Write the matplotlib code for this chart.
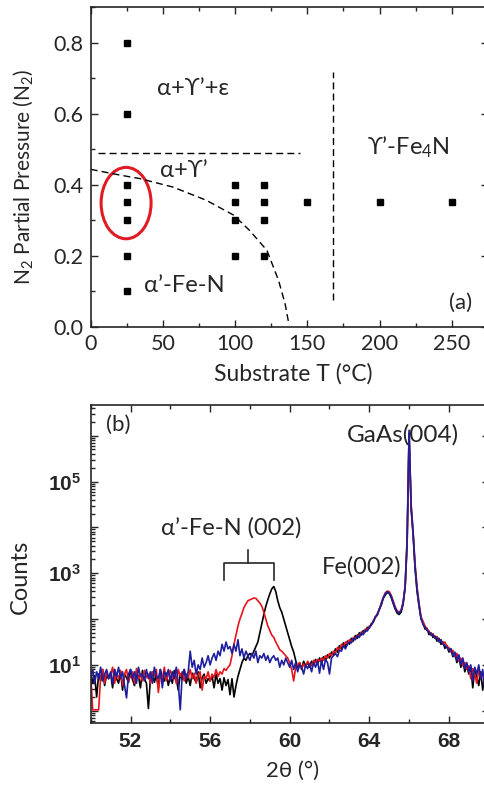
import matplotlib
matplotlib.use("Agg")
import matplotlib.pyplot as plt
import numpy as np
from matplotlib.patches import Ellipse
from matplotlib.ticker import MultipleLocator, LogLocator, FixedLocator, NullFormatter

plt.rcParams['font.family'] = ['Lato', 'DejaVu Sans']
plt.rcParams['mathtext.fontset'] = 'custom'
plt.rcParams['mathtext.rm'] = 'Lato'
plt.rcParams['mathtext.it'] = 'Lato:italic'
plt.rcParams['mathtext.bf'] = 'Liberation Sans:bold'

# (a) growth conditions of the samples
sample_T = [25, 25, 25, 25, 25, 25, 25,
            100, 100, 100, 100,
            120, 120, 120, 120,
            150, 200, 250]
sample_p = [0.8, 0.6, 0.4, 0.35, 0.3, 0.2, 0.1,
            0.4, 0.35, 0.3, 0.2,
            0.4, 0.35, 0.3, 0.2,
            0.35, 0.35, 0.35]

# phase boundaries (guides to the eye)
boundary_curve_T = [0, 20, 34, 57, 80, 99, 110, 122, 130, 134.5, 137]
boundary_curve_p = [0.443, 0.427, 0.417, 0.393, 0.356, 0.314, 0.271, 0.215, 0.131, 0.066, 0.012]
boundary_h_T = [5, 145]
boundary_h_p = 0.49
boundary_v_T = 167.5
boundary_v_p = [0.075, 0.716]

# (b) XRD scans, log10(counts) on a 0.1 deg grid from 50 to 70 deg
two_theta = np.round(np.arange(50.0, 70.05, 0.1), 1)

log_black = [
    0.85, 0.6, 0.75, 0.3, 0.8, 0.65, 0.9, 0.55, 0.78, 0.7,
    0.82, 0.5, 0.9, 0.7, 0.6, 0.85, 0.45, 0.8, 0.72, 0.62,
    0.9, 0.68, 0.55, 0.8, 0.75, 0.5, 0.88, 0.7, 0.6, 0.05,
    0.7, 0.85, 0.62, 0.78, 0.5, 0.9, 0.7, 0.65, 0.82, 0.55,
    0.75, 0.6, 0.88, 0.7, 0.45, 0.8, 0.68, 0.9, 0.6, 0.75,
    0.55, 0.82, 0.7, 0.62, 0.85, 0.5, 0.72, 0.8, 0.6, 0.7,
    0.65, 0.75, 0.5, 0.8, 0.6, 0.7, 0.45, 0.72, 0.55, 0.68,
    0.35, 0.7, 0.3, 0.55, 0.75, 0.9, 1.05, 1.15, 1.1, 1.2,
    1.25, 1.2, 1.3, 1.4, 1.5, 1.7, 1.9, 2.1, 2.28, 2.42,
    2.55, 2.66, 2.71, 2.6, 2.4, 2.25, 2.15, 2.0, 1.85, 1.7,
    1.55, 1.4, 1.28, 1.1, 0.95, 1.05, 0.9, 1.08, 0.98, 1.05,
    0.95, 1.08, 1.0, 1.12, 1.02, 1.15, 1.05, 1.18, 1.1, 1.22,
    1.15, 1.28, 1.22, 1.35, 1.28, 1.42, 1.35, 1.48, 1.4, 1.52,
    1.45, 1.58, 1.52, 1.64, 1.58, 1.7, 1.65, 1.75, 1.72, 1.82,
    1.8, 1.9, 1.93, 2.05, 2.08, 2.22, 2.3, 2.45, 2.52, 2.58,
    2.56, 2.47, 2.34, 2.22, 2.13, 2.1, 2.15, 2.33, 2.68, 3.6,
    6.05, 4.4, 3.85, 3.1, 2.6, 2.28, 2.0, 1.92, 1.78, 1.8,
    1.66, 1.7, 1.6, 1.63, 1.52, 1.58, 1.45, 1.5, 1.36, 1.42,
    1.28, 1.35, 1.18, 1.25, 1.05, 1.2, 0.95, 1.1, 0.85, 1.0,
    0.8, 0.95, 0.5, 0.9, 0.75, 0.55, 0.85, 0.45, 0.8, 0.6,
    0.7]

log_red = [
    0.8, 0.02, 0.02, 0.02, 0.02, 0.75, 0.9, 0.6, 0.85, 0.7,
    0.78, 0.95, 0.6, 0.82, 0.7, 0.88, 0.55, 0.8, 0.9, 0.65,
    0.75, 0.85, 0.6, 0.92, 0.7, 0.8, 0.65, 0.88, 0.72, 0.8,
    0.6, 0.85, 0.75, 0.9, 0.4, 0.8, 0.7, 0.95, 0.65, 0.8,
    0.88, 0.7, 0.8, 0.6, 0.9, 0.75, 0.85, 0.65, 0.8, 0.72,
    0.9, 0.7, 0.82, 0.6, 0.78, 0.85, 0.45, 0.75, 0.7, 0.85,
    0.65, 0.8, 0.72, 0.9, 0.75, 0.85, 0.8, 0.92, 0.88, 0.95,
    1.0, 1.2, 1.45, 1.65, 1.85, 2.0, 2.12, 2.25, 2.33, 2.4,
    2.42, 2.44, 2.46, 2.45, 2.4, 2.35, 2.28, 2.15, 2.0, 1.85,
    1.75, 1.65, 1.6, 1.5, 1.42, 1.33, 1.3, 1.25, 1.2, 1.15,
    1.05, 0.9, 0.65, 0.95, 1.0, 1.05, 0.92, 1.02, 0.95, 1.08,
    1.02, 0.98, 1.1, 1.05, 1.12, 1.08, 1.15, 1.1, 1.2, 1.15,
    1.25, 1.2, 1.3, 1.26, 1.38, 1.33, 1.45, 1.4, 1.5, 1.46,
    1.55, 1.5, 1.6, 1.57, 1.66, 1.62, 1.72, 1.68, 1.78, 1.76,
    1.85, 1.86, 1.97, 2.02, 2.12, 2.2, 2.35, 2.47, 2.57, 2.61,
    2.6, 2.52, 2.4, 2.27, 2.18, 2.15, 2.2, 2.37, 2.72, 3.7,
    6.0, 4.5, 3.9, 3.2, 2.7, 2.35, 2.05, 1.95, 1.85, 1.78,
    1.74, 1.66, 1.68, 1.58, 1.62, 1.52, 1.55, 1.45, 1.5, 1.4,
    1.38, 1.28, 1.32, 1.18, 1.25, 1.08, 1.15, 0.98, 1.05, 0.9,
    0.98, 0.7, 0.92, 0.8, 0.6, 0.88, 0.72, 0.82, 0.55, 0.78,
    0.75]

log_blue = [
    0.75, 0.9, 0.6, 0.85, 0.7, 0.95, 0.65, 0.8, 0.9, 0.7,
    0.85, 0.6, 0.9, 0.75, 0.95, 0.7, 0.85, 0.55, 0.28, 0.8,
    0.9, 0.7, 0.85, 0.6, 0.95, 0.75, 0.8, 0.65, 0.9, 0.7,
    0.85, 0.6, 0.95, 0.75, 0.7, 0.9, 0.5, 0.85, 0.75, 0.9,
    0.65, 0.85, 0.7, 0.95, 0.6, 0.02, 0.8, 0.9, 0.7, 0.85,
    1.3, 0.95, 1.1, 0.8, 1.0, 0.9, 1.15, 0.95, 1.05, 1.2,
    1.0, 1.15, 1.25, 1.1, 1.3, 1.2, 1.45, 1.3, 1.5, 1.35,
    1.4, 1.25, 1.45, 1.3, 1.55, 1.2, 1.35, 1.15, 1.3, 1.2,
    1.1, 1.25, 1.15, 1.3, 1.05, 1.2, 1.15, 1.25, 1.1, 1.2,
    1.05, 1.15, 1.2, 1.1, 1.15, 0.95, 1.1, 1.0, 1.15, 1.05,
    0.95, 1.1, 0.9, 1.05, 0.85, 1.0, 0.95, 0.8, 1.0, 0.92,
    1.02, 0.85, 1.05, 0.95, 1.08, 0.82, 1.1, 0.9, 1.12, 1.05,
    0.8, 1.15, 1.2, 1.25, 1.18, 1.32, 1.3, 1.42, 1.35, 1.45,
    1.5, 1.48, 1.58, 1.55, 1.64, 1.6, 1.7, 1.66, 1.76, 1.74,
    1.82, 1.87, 1.94, 2.04, 2.1, 2.2, 2.33, 2.46, 2.55, 2.6,
    2.57, 2.5, 2.36, 2.24, 2.16, 2.13, 2.18, 2.35, 2.7, 3.75,
    6.12, 4.5, 3.9, 3.15, 2.65, 2.3, 2.02, 1.88, 1.82, 1.75,
    1.72, 1.65, 1.66, 1.58, 1.6, 1.5, 1.55, 1.45, 1.42, 1.38,
    1.32, 1.35, 1.2, 1.28, 1.1, 1.22, 1.0, 1.15, 0.92, 1.05,
    0.85, 1.0, 0.65, 0.95, 0.8, 1.0, 0.7, 0.9, 0.5, 0.8,
    0.7]

# bracket over the two alpha' peaks (2theta, log10 counts)
bracket_x = [56.7, 59.2]
bracket_mid = 57.9
bracket_levels = [2.85, 3.22, 3.51]

ink = '#262626'

fig = plt.figure(figsize=(4.84, 7.85), dpi=100)

# ---- (a) phase diagram ----
ax1 = fig.add_axes([0.1874, 0.5838, 0.8207, 0.4073])
ax1.plot(sample_T, sample_p, 's', color='black', markersize=5, linestyle='none')
ax1.plot(boundary_curve_T, boundary_curve_p, color='black', lw=1.0, ls=(0, (5, 3)))
ax1.plot(boundary_h_T, [boundary_h_p, boundary_h_p], color='black', lw=1.0, ls=(0, (5, 3)))
ax1.plot([boundary_v_T, boundary_v_T], boundary_v_p, color='black', lw=1.0, ls=(0, (5, 3)))
ax1.add_patch(Ellipse((24.5, 0.348), width=34.6, height=0.201,
                      fill=False, edgecolor='#e01b24', lw=2.2))

ax1.text(71, 0.67, 'α+ϒ’+ε', fontsize=17, ha='center', va='center', color=ink)
ax1.text(64.5, 0.44, 'α+ϒ’', fontsize=17, ha='center', va='center', color=ink)
ax1.text(65, 0.117, 'α’-Fe-N', fontsize=17, ha='center', va='center', color=ink)
ax1.text(220, 0.505, 'ϒ’-Fe$_4$N', fontsize=17, ha='center', va='center', color=ink)
ax1.text(256, 0.066, '(a)', fontsize=16, ha='center', va='center', color=ink)

ax1.set_xlim(0, 275)
ax1.set_ylim(0, 0.9)
ax1.xaxis.set_major_locator(MultipleLocator(50))
ax1.xaxis.set_minor_locator(MultipleLocator(25))
ax1.yaxis.set_major_locator(MultipleLocator(0.2))
ax1.yaxis.set_minor_locator(MultipleLocator(0.1))
ax1.yaxis.set_major_formatter(matplotlib.ticker.FormatStrFormatter('%.1f'))
ax1.tick_params(which='both', direction='in', top=True, right=True,
                labelsize=15.5, colors=ink, width=1.0)
ax1.tick_params(which='major', length=5, pad=5)
ax1.tick_params(which='minor', length=3)
ax1.set_xlabel('Substrate T (°C)', fontsize=16.5, color=ink)
ax1.set_ylabel('N$_2$ Partial Pressure (N$_2$)', fontsize=15, color=ink)
ax1.xaxis.set_label_coords(0.509, -0.115)
ax1.yaxis.set_label_coords(-0.14, 0.47)

# ---- (b) XRD ----
ax2 = fig.add_axes([0.1874, 0.0794, 0.8223, 0.4047])
ax2.plot(two_theta, 10 ** np.array(log_black), color='black', lw=1.2)
ax2.plot(two_theta, 10 ** np.array(log_red), color='#e8141c', lw=1.2)
ax2.plot(two_theta, 10 ** np.array(log_blue), color='#1f1f9e', lw=1.2)

ax2.plot([bracket_x[0], bracket_x[0], bracket_x[1], bracket_x[1]],
         [10 ** bracket_levels[0], 10 ** bracket_levels[1],
          10 ** bracket_levels[1], 10 ** bracket_levels[0]], color=ink, lw=1.2)
ax2.plot([bracket_mid, bracket_mid], [10 ** bracket_levels[1], 10 ** bracket_levels[2]],
         color=ink, lw=1.2)

ax2.text(57.05, 1e4, 'α’-Fe-N (002)', fontsize=17, ha='center', va='center', color=ink)
ax2.text(63.6, 10 ** 3.14, 'Fe(002)', fontsize=17, ha='center', va='center', color=ink)
ax2.text(65.7, 10 ** 6.02, 'GaAs(004)', fontsize=17.5, ha='center', va='center', color=ink)
ax2.text(51.4, 10 ** 6.24, '(b)', fontsize=16, ha='center', va='center', color=ink)

ax2.set_yscale('log')
ax2.set_xlim(50, 70)
ax2.set_ylim(10 ** -0.26, 10 ** 6.67)
ax2.set_xticks([52, 56, 60, 64, 68], ['52', '56', '60', '64', '68'],
               fontweight='bold', family='Liberation Sans')
ax2.xaxis.set_minor_locator(MultipleLocator(2))
ax2.yaxis.set_major_locator(FixedLocator([1, 1e1, 1e2, 1e3, 1e4, 1e5, 1e6]))
ax2.set_yticklabels(['', r'$\mathbf{10^{1}}$', '', r'$\mathbf{10^{3}}$', '',
                     r'$\mathbf{10^{5}}$', ''])
ax2.yaxis.set_minor_locator(LogLocator(base=10, subs=np.arange(2, 10), numticks=20))
ax2.yaxis.set_minor_formatter(NullFormatter())
ax2.tick_params(which='both', direction='in', top=True, right=True,
                labelsize=15, colors=ink, width=1.0)
ax2.tick_params(which='major', length=5, pad=7)
ax2.tick_params(which='minor', length=3)
ax2.tick_params(axis='y', which='minor', right=False)
ax2.set_xlabel('2θ (°)', fontsize=16, color=ink)
ax2.set_ylabel('Counts', fontsize=17, color=ink)
ax2.xaxis.set_label_coords(0.507, -0.12)
ax2.yaxis.set_label_coords(-0.15, 0.46)

for ax in (ax1, ax2):
    for s in ax.spines.values():
        s.set_color(ink)
        s.set_linewidth(1.2)

fig.savefig('out.png', dpi=100)
